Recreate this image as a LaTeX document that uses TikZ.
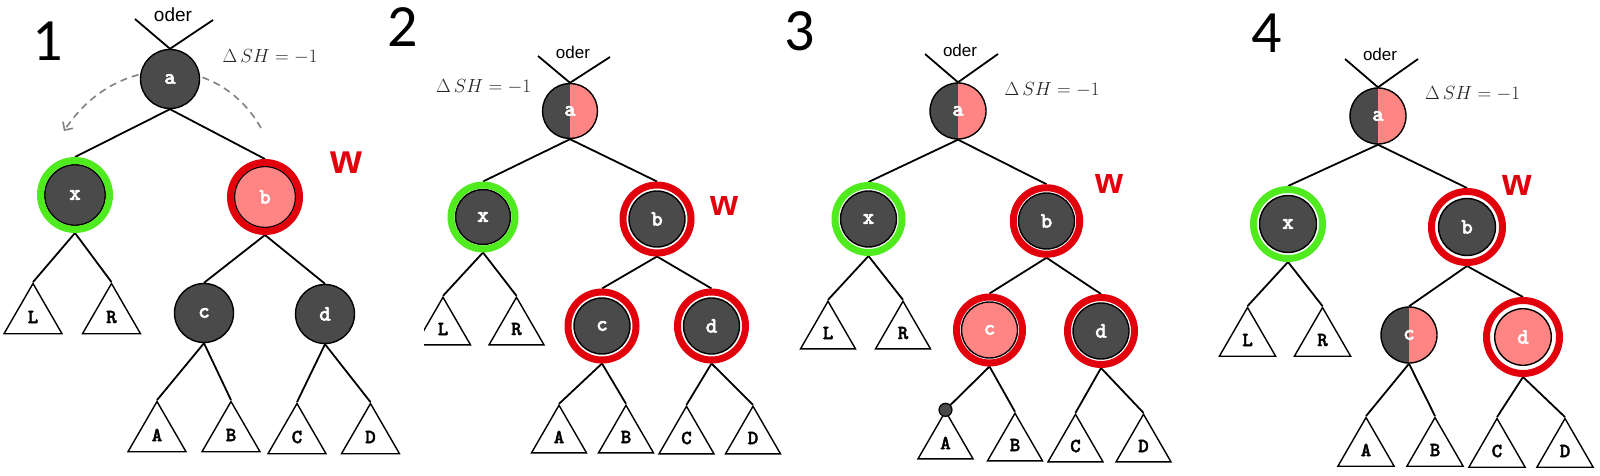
\RequirePackage{fix-cm}
\documentclass[tikz,border=0pt]{standalone}
\usepackage{amsmath, amssymb}
\usepackage[no-math]{fontspec}
\usepackage{xcolor}
\usepackage{tikz}
\usetikzlibrary{shapes.geometric, backgrounds, arrows.meta}

\newfontfamily\odersf{Liberation Sans}
\newfontfamily\zahlfont{Carlito}
\newfontfamily\knotfont[Extension=.otf, FakeBold=2]{lmmonolt10-bold}

\definecolor{knotgray}{RGB}{74,74,74}
\definecolor{knotpink}{RGB}{255,133,133}
\definecolor{ringred}{RGB}{225,0,12}
\definecolor{ringgreen}{RGB}{80,235,30}

\begin{document}
\begin{tikzpicture}[x=1pt, y=-1pt,
	knot/.style={circle, draw=black, line width=1.4pt, fill=knotgray, minimum size=#1, inner sep=0pt, text=white, font=\knotfont\fontsize{22}{22}\selectfont},
	halfknot/.style={knot=#1, path picture={\fill[knotpink] (path picture bounding box.north) rectangle (path picture bounding box.south east);}},
	ringknot/.style n args={4}{circle, draw=#1, line width=7pt, fill=white, minimum size=#3, inner sep=0pt, text=white, font=\knotfont\fontsize{22}{22}\selectfont,
		path picture={\draw[black, line width=1.4pt, fill=#2] (path picture bounding box.center) circle (#4);}},
	tree/.style={regular polygon, regular polygon sides=3, draw=black, line width=1.4pt, fill=white, minimum size=#1, inner sep=0pt, font=\knotfont\fontsize{20}{20}\selectfont},
	kante/.style={black, line width=1.8pt},
	bogen/.style={black!50, line width=1.6pt, dash pattern=on 7pt off 5pt, -{Straight Barb[length=6pt]}},
	zahl/.style={font=\zahlfont\fontsize{60}{60}\selectfont, inner sep=0pt},
	odertext/.style={font=\odersf\fontsize{#1}{#1}\selectfont, inner sep=0pt},
	delta/.style={font=\fontsize{19}{19}\selectfont, text=black!85, inner sep=0pt},
	wtext/.style={font=\odersf\fontsize{#1}{#1}\selectfont\bfseries, text=ringred, inner sep=0pt}]

	\useasboundingbox (0,0) rectangle (1600,476);

	% 1
	\node[zahl] (n1) at (48,41) {1};
	\node[odertext=19] (oder1) at (173,15) {oder};
	\node[delta] (dsh1) at (270,57) {$\Delta\,SH = -1$};
	\node[wtext=41] (w1) at (346,163) {w};
	\node[knot=59pt] (a1) at (170,79) {a};
	\node[ringknot={ringgreen}{knotgray}{69pt}{30.3pt}] (x1) at (75,195) {x};
	\node[ringknot={ringred}{knotpink}{69pt}{30.5pt}] (b1) at (265,197) {b};
	\node[knot=59pt] (c1) at (204,313) {c};
	\node[knot=59pt] (d1) at (325,314) {d};
	\node[tree=67pt] (L1) at (33,317) {L};
	\node[tree=67pt] (R1) at (111.5,317) {R};
	\node[tree=67pt] (A1) at (157,435) {A};
	\node[tree=67pt] (B1) at (231,435) {B};
	\node[tree=67pt] (C1) at (297,437) {C};
	\node[tree=67pt] (D1) at (370.5,437) {D};
	\coordinate (ol1) at (135,19);
	\coordinate (or1) at (213,20);
	\coordinate (bs1) at (261,128);
	\coordinate (be1) at (64,131);

	% 2
	\node[zahl] (n2) at (403,27) {2};
	\node[odertext=17] (oder2) at (573,52) {oder};
	\node[delta] (dsh2) at (483.5,87) {$\Delta\,SH = -1$};
	\node[wtext=36] (w2) at (724,206) {w};
	\node[halfknot=55pt] (a2) at (570,111) {a};
	\node[ringknot={ringgreen}{knotgray}{64pt}{27.5pt}] (x2) at (483,217) {x};
	\node[ringknot={ringred}{knotgray}{68pt}{28pt}] (b2) at (657,219) {b};
	\node[ringknot={ringred}{knotgray}{68pt}{28pt}] (c2) at (602,326) {c};
	\node[ringknot={ringred}{knotgray}{68pt}{28pt}] (d2) at (711.5,326) {d};
	\begin{scope}
		\clip (424,280) rectangle (490,360);
		\node[tree=63.5pt] (L2) at (443,329) {L};
	\end{scope}
	\node[tree=63.5pt] (R2) at (516.5,329) {R};
	\node[tree=63.5pt] (A2) at (559,437) {A};
	\node[tree=63.5pt] (B2) at (626,437) {B};
	\node[tree=63.5pt] (C2) at (686.5,438) {C};
	\node[tree=63.5pt] (D2) at (753,438) {D};
	\coordinate (ol2) at (538,56);
	\coordinate (or2) at (610,57);

	% 3
	\node[zahl] (n3) at (800,31) {3};
	\node[odertext=17] (oder3) at (960,50) {oder};
	\node[delta] (dsh3) at (1052,90) {$\Delta\,SH = -1$};
	\node[wtext=36] (w3) at (1109,184) {w};
	\node[halfknot=56pt] (a3) at (958,111) {a};
	\node[ringknot={ringgreen}{knotgray}{67pt}{28pt}] (x3) at (868.5,219) {x};
	\node[ringknot={ringred}{knotgray}{66.5pt}{28pt}] (b3) at (1046.5,221) {b};
	\node[ringknot={ringred}{knotpink}{66pt}{28pt}] (c3) at (989.5,330) {c};
	\node[ringknot={ringred}{knotgray}{67pt}{28pt}] (d3) at (1101,331) {d};
	\node[tree=63.5pt] (L3) at (828,333) {L};
	\node[tree=63.5pt] (R3) at (903,333) {R};
	\node[tree=63.5pt] (A3) at (945.5,443) {A};
	\node[tree=63.5pt] (B3) at (1015,445) {B};
	\node[tree=63.5pt] (C3) at (1075.5,446) {C};
	\node[tree=63.5pt] (D3) at (1143.5,446) {D};
	\node[circle, draw=black, line width=1.2pt, fill=knotgray, minimum size=13pt, inner sep=0pt] (m3) at (A3.corner 1) {};
	\coordinate (ol3) at (925,54);
	\coordinate (or3) at (998,54);

	% 4
	\node[zahl] (n4) at (1267,33) {4};
	\node[odertext=17] (oder4) at (1380,54) {oder};
	\node[delta] (dsh4) at (1472.5,94) {$\Delta\,SH = -1$};
	\node[wtext=38] (w4) at (1517,185) {w};
	\node[halfknot=56pt] (a4) at (1378,116) {a};
	\node[ringknot={ringgreen}{knotgray}{69pt}{28.5pt}] (x4) at (1288,224) {x};
	\node[ringknot={ringred}{knotgray}{71pt}{28.5pt}] (b4) at (1467,227) {b};
	\node[halfknot=56pt] (c4) at (1409,335) {c};
	\node[ringknot={ringred}{knotpink}{73pt}{28.3pt}] (d4) at (1523,337) {d};
	\node[tree=65pt] (L4) at (1247.5,340) {L};
	\node[tree=65pt] (R4) at (1322.5,340) {R};
	\node[tree=65pt] (A4) at (1366,450) {A};
	\node[tree=65pt] (B4) at (1435,450) {B};
	\node[tree=65pt] (C4) at (1497,451) {C};
	\node[tree=65pt] (D4) at (1565,451) {D};
	\coordinate (ol4) at (1345,59);
	\coordinate (or4) at (1418,59);

	\begin{scope}[on background layer]
		\draw[bogen] (bs1) .. controls (218,52) and (116,52) .. (be1);
		\draw[kante] (ol1) -- (a1.north) -- (or1);
		\draw[kante] (a1.south) -- (x1.north);
		\draw[kante] (a1.south) -- (b1.north);
		\draw[kante] (x1.south) -- (L1.corner 1);
		\draw[kante] (x1.south) -- (R1.corner 1);
		\draw[kante] (b1.south) -- (c1.north);
		\draw[kante] (b1.south) -- (d1.north);
		\draw[kante] (c1.south) -- (A1.corner 1);
		\draw[kante] (c1.south) -- (B1.corner 1);
		\draw[kante] (d1.south) -- (C1.corner 1);
		\draw[kante] (d1.south) -- (D1.corner 1);

		\draw[kante] (ol2) -- (a2.north) -- (or2);
		\draw[kante] (a2.south) -- (x2.north);
		\draw[kante] (a2.south) -- (b2.north);
		\draw[kante] (x2.south) -- (L2.corner 1);
		\draw[kante] (x2.south) -- (R2.corner 1);
		\draw[kante] (b2.south) -- (c2.north);
		\draw[kante] (b2.south) -- (d2.north);
		\draw[kante] (c2.south) -- (A2.corner 1);
		\draw[kante] (c2.south) -- (B2.corner 1);
		\draw[kante] (d2.south) -- (C2.corner 1);
		\draw[kante] (d2.south) -- (D2.corner 1);

		\draw[kante] (ol3) -- (a3.north) -- (or3);
		\draw[kante] (a3.south) -- (x3.north);
		\draw[kante] (a3.south) -- (b3.north);
		\draw[kante] (x3.south) -- (L3.corner 1);
		\draw[kante] (x3.south) -- (R3.corner 1);
		\draw[kante] (b3.south) -- (c3.north);
		\draw[kante] (b3.south) -- (d3.north);
		\draw[kante] (c3.south) -- (m3);
		\draw[kante] (c3.south) -- (B3.corner 1);
		\draw[kante] (d3.south) -- (C3.corner 1);
		\draw[kante] (d3.south) -- (D3.corner 1);

		\draw[kante] (ol4) -- (a4.north) -- (or4);
		\draw[kante] (a4.south) -- (x4.north);
		\draw[kante] (a4.south) -- (b4.north);
		\draw[kante] (x4.south) -- (L4.corner 1);
		\draw[kante] (x4.south) -- (R4.corner 1);
		\draw[kante] (b4.south) -- (c4.north);
		\draw[kante] (b4.south) -- (d4.north);
		\draw[kante] (c4.south) -- (A4.corner 1);
		\draw[kante] (c4.south) -- (B4.corner 1);
		\draw[kante] (d4.south) -- (C4.corner 1);
		\draw[kante] (d4.south) -- (D4.corner 1);
	\end{scope}

\end{tikzpicture}
\end{document}
